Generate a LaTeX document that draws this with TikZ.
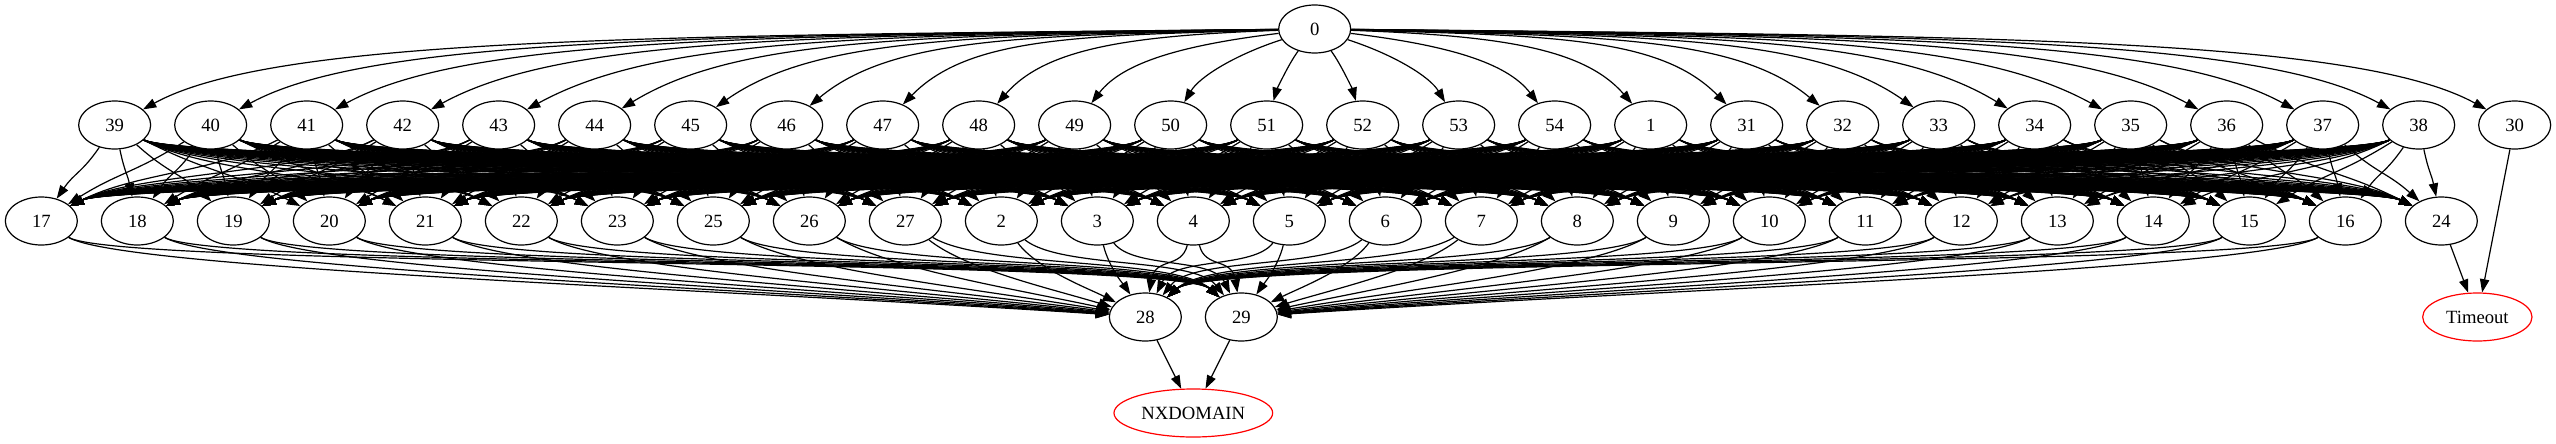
\documentclass[tikz,border=0pt]{standalone}
\usepackage{fontspec}
\setmainfont{Liberation Serif}
\usepackage{tikz}
\usetikzlibrary{shapes,arrows.meta,backgrounds}

\begin{document}
\begin{tikzpicture}[x=1pt,y=-1pt,
    state/.style={ellipse,draw,line width=0.9pt,fill=white,minimum width=54pt,minimum height=36pt,inner sep=0pt,font=\fontsize{14}{16}\selectfont},
    final/.style={state,draw=red},
    edge/.style={line width=0.9pt,-{Triangle[length=10pt,width=7pt]}}]
    \useasboundingbox (0,0) rectangle (1917,332.25);
    % Source at top
    \node[state] (N0) at (986,21.75) {0};
    % First row
    \foreach \l [count=\i from 0] in {39,40,41,42,43,44,45,46,47,48,49,50,51,52,53,54,1,31,32,33,34,35,36,37,38,30}
        \node[state] (N\l) at (86+72*\i,93.75) {\l};
    % Second row
    \foreach \l [count=\j from 0] in {17,18,19,20,21,22,23,25,26,27,2,3,4,5,6,7,8,9,10,11,12,13,14,15,16,24}
        \node[state] (N\l) at (31+72*\j,165.75) {\l};
    % Last rows
    \node[state] (N28) at (859,237.75) {28};
    \node[state] (N29) at (931,237.75) {29};
    \node[final,minimum width=82pt] (TO) at (1858,237.75) {Timeout};
    \node[final,minimum width=119pt] (NX) at (895,309.75) {NXDOMAIN};
    \begin{scope}[on background layer]
    % 0 to first row
    \foreach \l [count=\i from 0] in {39,40,41,42,43,44,45,46,47,48,49,50,51,52,53,54,1,31,32,33,34,35,36,37,38,30} {
        \pgfmathsetmacro\dist{86+72*\i-986}
        \pgfmathsetmacro\hold{\dist*min(0.2,120/abs(\dist))}
        \pgfmathsetmacro\drop{max(5,30-0.1*abs(\dist))}
        \pgfmathsetmacro\rise{min(66,20+0.15*abs(\dist))}
        \draw[edge] (N0) .. controls +(0.55*\dist,\drop) and +(-\hold,-\rise) .. (N\l);
    }
    % first row to second row
    \foreach \a [count=\i from 0] in {39,40,41,42,43,44,45,46,47,48,49,50,51,52,53,54,1,31,32,33,34,35,36,37,38} {
        \foreach \b [count=\j from 0] in {17,18,19,20,21,22,23,25,26,27,2,3,4,5,6,7,8,9,10,11,12,13,14,15,16,24} {
            \pgfmathsetmacro\dist{72*(\j-\i)-55}
            \pgfmathsetmacro\hold{\dist*min(0.45,70/abs(\dist))}
            \draw[edge] (N\a) .. controls +(\hold,36) and +(-\hold,-36) .. (N\b);
        }
    }
    % second row to 28 and 29
    \foreach \b [count=\j from 0] in {17,18,19,20,21,22,23,25,26,27,2,3,4,5,6,7,8,9,10,11,12,13,14,15,16} {
        \pgfmathsetmacro\dist{828-72*\j}
        \pgfmathsetmacro\hold{\dist*min(0.25,60/abs(\dist))}
        \pgfmathsetmacro\inx{\dist>0 ? -0.4*\dist : -\dist*min(0.2,50/abs(\dist))}
        \pgfmathsetmacro\iny{\dist>0 ? -21.6 : -45}
        \draw[edge] (N\b) .. controls +(\hold,36) and +(\inx,\iny) .. (N28);
        \pgfmathsetmacro\dist{900-72*\j}
        \pgfmathsetmacro\hold{\dist*min(0.25,60/abs(\dist))}
        \pgfmathsetmacro\inx{\dist<0 ? -0.4*\dist : -\dist*min(0.2,50/abs(\dist))}
        \pgfmathsetmacro\iny{\dist<0 ? -21.6 : -45}
        \draw[edge] (N\b) .. controls +(\hold,36) and +(\inx,\iny) .. (N29);
    }
    \draw[edge] (N24) -- (TO);
    \draw[edge] (N30) -- (TO);
    \draw[edge] (N28) -- (NX);
    \draw[edge] (N29) -- (NX);
    \end{scope}
\end{tikzpicture}
\end{document}
